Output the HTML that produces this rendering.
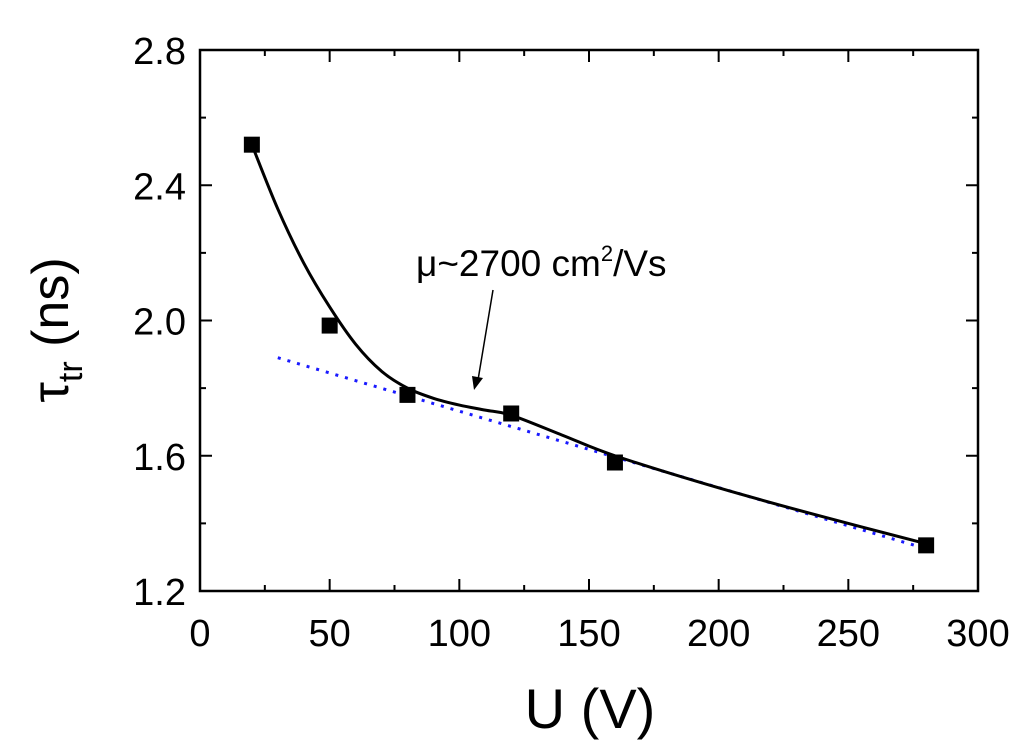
<!DOCTYPE html>
<html><head><meta charset="utf-8"><style>body{margin:0;background:#fff}svg{display:block}text{font-family:"Liberation Sans",sans-serif;fill:#000}</style></head>
<body>
<svg id="chart" width="1024" height="755">
<g id="axes"></g>
<g id="marks"></g>
<text x="416" y="276" font-size="37">μ~2700 cm<tspan font-size="22" dy="-15">2</tspan><tspan dy="15">/Vs</tspan></text>
<line x1="493" y1="290" x2="478" y2="380" stroke="#000" stroke-width="1.5"/>
<polygon points="474,390 472,376 483,378" fill="#000"/>
<text x="590" y="728" font-size="56" text-anchor="middle">U (V)</text>
<g transform="translate(68,330) rotate(-90)"><text x="0" y="0" font-size="52" text-anchor="middle">τ<tspan font-size="34" dy="14">tr</tspan><tspan dy="-14">    (ns)</tspan></text></g>
</svg>
<script>
const xTicks=[0,50,100,150,200,250,300];
const yTicks=[1.2,1.6,2.0,2.4,2.8];
const dataX=[20,50,80,120,160,280];
const dataY=[2.52,1.985,1.78,1.725,1.58,1.335];
const fitX=[20,30,40,50,60,70,80,90,100,110,120,140,160,200,240,280];
const fitY=[2.52,2.33,2.17,2.04,1.93,1.85,1.80,1.77,1.75,1.735,1.72,1.66,1.60,1.505,1.42,1.34];
const linX=[30,280];
const linY=[1.89,1.325];
const L=200,R=978,T=50,B=591;
const sx=v=>L+(v-0)/(300-0)*(R-L);
const sy=v=>B-(v-1.2)/(2.8-1.2)*(B-T);
const NS='http://www.w3.org/2000/svg';
function mk(p,t,a){const e=document.createElementNS(NS,t);for(const k in a)e.setAttribute(k,a[k]);p.appendChild(e);return e;}
const ax=document.getElementById('axes'),mg=document.getElementById('marks');
const fr=mk(ax,'rect',{x:L,y:T,width:R-L,height:B-T,fill:'none',stroke:'#000','stroke-width':2.5});


for(let v=0;v<=300;v+=25){const x=sx(v),len=v%50===0?12:6;
mk(ax,'line',{x1:x,y1:B,x2:x,y2:B-len,stroke:'#000','stroke-width':2});
mk(ax,'line',{x1:x,y1:T,x2:x,y2:T+len,stroke:'#000','stroke-width':2});}
for(let i=0;i<=8;i++){const v=1.2+i*0.2,y=sy(v),len=i%2===0?12:6;
mk(ax,'line',{x1:L,y1:y,x2:L+len,y2:y,stroke:'#000','stroke-width':2});
mk(ax,'line',{x1:R,y1:y,x2:R-len,y2:y,stroke:'#000','stroke-width':2});}
xTicks.forEach(v=>{const t=mk(ax,'text',{x:sx(v),y:646,'font-size':38,'text-anchor':'middle'});t.textContent=v;

});
yTicks.forEach(v=>{const t=mk(ax,'text',{x:186,y:sy(v)+14,'font-size':38,'text-anchor':'end'});t.textContent=v.toFixed(1);

});
const ln=mk(mg,'line',{x1:sx(linX[0]),y1:sy(linY[0]),x2:sx(linX[1]),y2:sy(linY[1]),stroke:'#1a1aff','stroke-width':3,'stroke-dasharray':'3 7'});


const pts=fitX.map((x,i)=>[sx(x),sy(fitY[i])]);
let d='M'+pts[0];
for(let i=0;i<pts.length-1;i++){const p0=pts[i-1]||pts[i],p1=pts[i],p2=pts[i+1],p3=pts[i+2]||p2;
d+=` C${p1[0]+(p2[0]-p0[0])/6},${p1[1]+(p2[1]-p0[1])/6} ${p2[0]-(p3[0]-p1[0])/6},${p2[1]-(p3[1]-p1[1])/6} ${p2[0]},${p2[1]}`;}
const cv=mk(mg,'path',{d:d,fill:'none',stroke:'#000','stroke-width':3});


dataX.forEach((x,i)=>{const r=mk(mg,'rect',{x:sx(x)-8,y:sy(dataY[i])-8,width:16,height:16,fill:'#000'});

});
</script>
</body></html>
